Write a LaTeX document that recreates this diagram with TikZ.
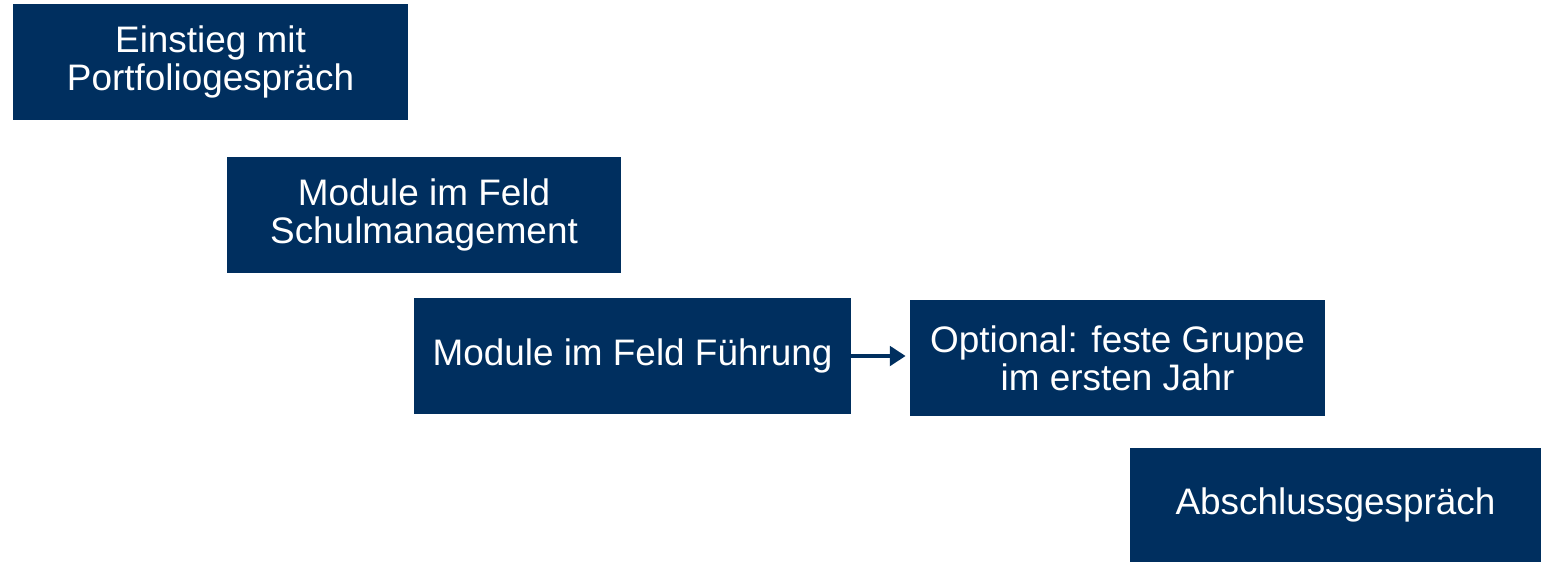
\documentclass[tikz,border=0pt]{standalone}
\usepackage{fontspec}
\setmainfont{Liberation Sans}
\usetikzlibrary{arrows.meta}

\begin{document}
\begin{tikzpicture}[x=0.02cm,y=-0.02cm]
    % Define colors
    \definecolor{stationblue}{RGB}{0,47,95}

    \tikzset{
        stationbox/.style={fill=stationblue, text=white, align=center,
            inner sep=0pt, minimum height=2.32cm,
            font=\fontsize{21}{21.6}\selectfont}
    }

    \useasboundingbox (0,0) rectangle (1541,562);

    % Stations
    \node[stationbox, minimum width=7.9cm] (einstieg) at (210.5,62) {Einstieg mit\\Portfoliogespräch};
    \node[stationbox, minimum width=7.88cm] (schul) at (424,215) {Module im Feld\\Schulmanagement};
    \node[stationbox, minimum width=8.74cm] (fuehrung) at (632.5,356) {Module im Feld Führung};
    \node[stationbox, minimum width=8.3cm] (gruppe) at (1117.5,358) {Optional: feste Gruppe\\im ersten Jahr};
    \node[stationbox, minimum width=8.22cm, minimum height=2.28cm] (abschluss) at (1335.5,505) {Abschlussgespräch};

    % Optional branch
    \draw[stationblue, line width=2.6pt, -{Triangle[length=9pt,width=11pt]}, shorten >=2.3pt] (fuehrung.east) -- (fuehrung.east -| gruppe.west);
\end{tikzpicture}
\end{document}
